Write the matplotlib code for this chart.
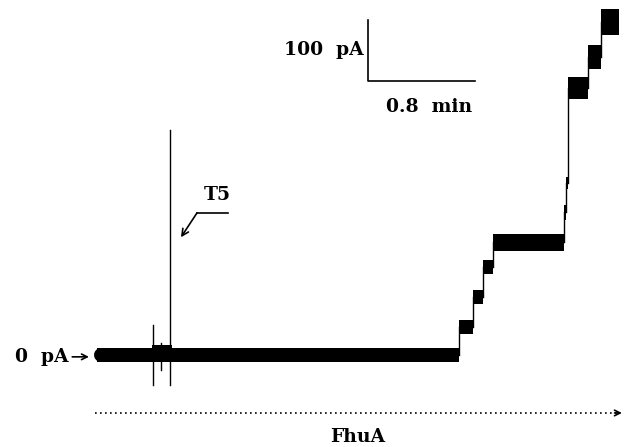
import matplotlib
matplotlib.use("Agg")
import matplotlib.pyplot as plt

# ---- data (time in min, current in pA) ----
step_times = [0.0, 2.71, 2.81, 2.89, 2.96, 3.49, 3.505, 3.52, 3.67, 3.77, 3.90]
step_levels = [0, 46, 95, 144, 185, 234, 282, 438, 489, 546]
noise_half = [11.5, 11.5, 11.5, 12, 14, 12, 10, 18, 20, 22]

spike_times = [0.419, 0.479, 0.543]
spike_hi = [49, 20, 369]
spike_lo = [-49, -25, -49]

disturb_t = [0.41, 0.56]
disturb_lo, disturb_hi = -12, 16

scale_t0, scale_len_t = 2.026, 0.8
scale_i0, scale_len_i = 449, 100

FONT = dict(family="DejaVu Serif", fontweight="bold", fontsize=13.5)

fig = plt.figure(figsize=(6.27, 4.47), dpi=100)
ax = fig.add_axes([0, 0, 1, 1])
ax.set_xlim(-0.725, 3.963)
ax.set_ylim(-150.8, 582)
ax.axis("off")

# noisy current bands
for i, lvl in enumerate(step_levels):
    t0, t1 = step_times[i], step_times[i + 1]
    h = noise_half[i]
    ax.fill_between([t0, t1], [lvl - h] * 2, [lvl + h] * 2, color="black", lw=0)
    if i > 0:
        ax.plot([t0, t0], [step_levels[i - 1], lvl], color="black", lw=1.0)
# rounded start of baseline
ax.plot([step_times[0] + 0.03, step_times[0] + 0.04], [0, 0], color="black",
        lw=14 * 0.72, solid_capstyle="round")

# disturbance at T5 addition
ax.fill_between(disturb_t, [disturb_lo] * 2, [disturb_hi] * 2, color="black", lw=0)
for t, hi, lo in zip(spike_times, spike_hi, spike_lo):
    ax.plot([t, t], [lo, hi], color="black", lw=1.0)

# scale bar
ax.plot([scale_t0, scale_t0, scale_t0 + scale_len_t],
        [scale_i0 + scale_len_i, scale_i0, scale_i0], color="black", lw=1.2)
ax.text(scale_t0 - 0.03, scale_i0 + 51, "100  pA", ha="right", va="center", **FONT)
ax.text(scale_t0 + 0.456, 407, "0.8  min", ha="center", va="center", **FONT)

# T5 label with leader arrow
ax.text(0.897, 262, "T5", ha="center", va="center", **FONT)
ax.plot([0.979, 0.748], [233, 233], color="black", lw=1.2)
ax.annotate("", xy=(0.628, 193), xytext=(0.748, 233),
            arrowprops=dict(arrowstyle="->", color="black", lw=1.2,
                            shrinkA=0, shrinkB=0, mutation_scale=12))

# 0 pA marker
ax.text(-0.215, -3, "0  pA", ha="right", va="center", **FONT)
ax.annotate("", xy=(-0.06, -3), xytext=(-0.185, -3),
            arrowprops=dict(arrowstyle="->", color="black", lw=1.2,
                            shrinkA=0, shrinkB=0, mutation_scale=10))

# FhuA dotted arrow
ax.plot([-0.015, 3.89], [-95, -95], color="black", lw=1.2, ls=(0, (1, 2)))
ax.annotate("", xy=(3.925, -95), xytext=(3.87, -95),
            arrowprops=dict(arrowstyle="->", color="black", lw=1.2,
                            shrinkA=0, shrinkB=0, mutation_scale=10))
ax.text(1.951, -134, "FhuA", ha="center", va="center", **FONT)

fig.savefig("out.png", dpi=100)
